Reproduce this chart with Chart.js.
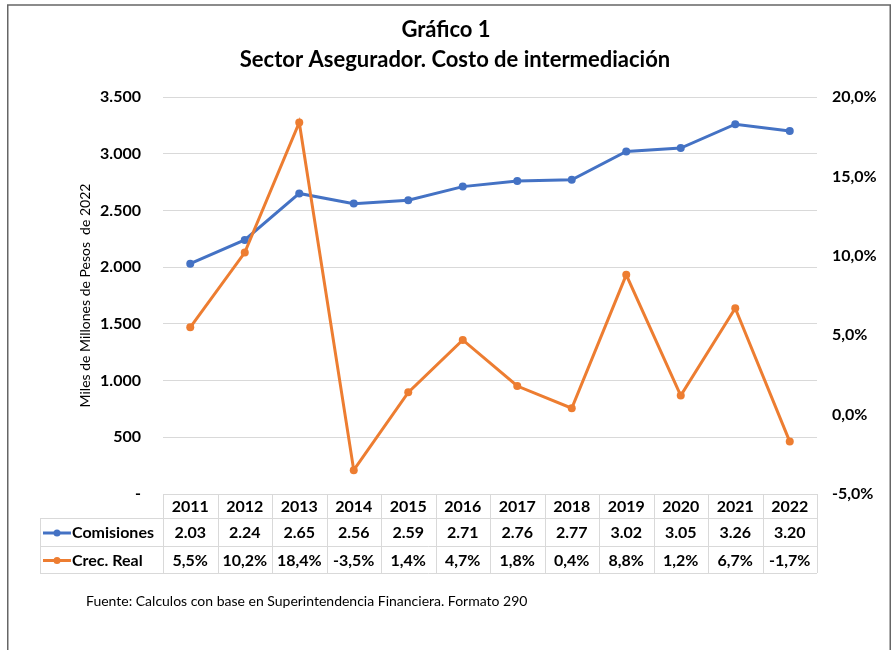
<!DOCTYPE html>
<html>
<head>
<meta charset="utf-8">
<script src="https://cdn.jsdelivr.net/npm/chart.js@4/dist/chart.umd.min.js"></script>
<style>
  html, body { margin: 0; padding: 0; background: #fff; }
  canvas { display: block; }
</style>
</head>
<body>
<canvas id="chart" width="891" height="650"></canvas>
<script>
// Data
const years = ['2011', '2012', '2013', '2014', '2015', '2016', '2017', '2018', '2019', '2020', '2021', '2022'];
const comisiones = [2030, 2240, 2650, 2560, 2590, 2710, 2760, 2770, 3020, 3050, 3260, 3200]; // miles de millones
const crecReal = [5.5, 10.2, 18.4, -3.5, 1.4, 4.7, 1.8, 0.4, 8.8, 1.2, 6.7, -1.7]; // %
const leftTicks = ['-', '500', '1.000', '1.500', '2.000', '2.500', '3.000', '3.500'];
const rightTicks = ['-5,0%', '0,0%', '5,0%', '10,0%', '15,0%', '20,0%'];

const BLUE = '#4472C4';
const ORANGE = '#ED7D31';
const GRID = '#d9d9d9';
const FONT = 'Lato, "Noto Sans", sans-serif';

// frame, titles, data table and footer
const extras = {
  id: 'extras',
  beforeDraw(chart) {
    const ctx = chart.ctx;
    ctx.save();
    ctx.fillStyle = '#fff';
    ctx.fillRect(0, 0, chart.width, chart.height);
    ctx.strokeStyle = '#666';
    ctx.lineWidth = 1.5;
    ctx.beginPath();
    ctx.moveTo(7.75, 650);
    ctx.lineTo(7.75, 5);
    ctx.lineTo(890.25, 5);
    ctx.lineTo(890.25, 650);
    ctx.stroke();
    ctx.fillStyle = '#000';
    ctx.textAlign = 'center';
    ctx.textBaseline = 'middle';
    ctx.font = 'bold 22px ' + FONT;
    ctx.fillText('Gráfico 1', 446, 30);
    ctx.fillText('Sector Asegurador. Costo de intermediación', 455, 60);
    ctx.restore();
  },
  afterDraw(chart) {
    const ctx = chart.ctx;
    const xs = chart.scales.x;
    const colW = xs.getPixelForValue(1) - xs.getPixelForValue(0);
    const x0 = xs.getPixelForValue(0) - colW / 2;
    const x1 = xs.getPixelForValue(years.length - 1) + colW / 2;
    const rows = [494, 518, 546, 573];
    const legendLeft = 40;

    ctx.save();
    ctx.strokeStyle = GRID;
    ctx.lineWidth = 1;
    ctx.beginPath();
    // horizontal lines
    ctx.moveTo(x0, rows[0] + 0.5); ctx.lineTo(x1, rows[0] + 0.5);
    for (let r = 1; r < rows.length; r++) {
      ctx.moveTo(legendLeft, rows[r] + 0.5); ctx.lineTo(x1, rows[r] + 0.5);
    }
    // vertical lines
    ctx.moveTo(legendLeft + 0.5, rows[1]); ctx.lineTo(legendLeft + 0.5, rows[3]);
    for (let i = 0; i <= years.length; i++) {
      const x = Math.round(x0 + i * colW) + 0.5;
      ctx.moveTo(x, rows[0]); ctx.lineTo(x, rows[3]);
    }
    ctx.stroke();

    ctx.fillStyle = '#000';
    ctx.font = 'bold 16px ' + FONT;
    ctx.textAlign = 'center';
    ctx.textBaseline = 'middle';
    years.forEach((y, i) => {
      const cx = xs.getPixelForValue(i);
      ctx.fillText(y, cx, (rows[0] + rows[1]) / 2 + 1);
      ctx.fillText((comisiones[i] / 1000).toFixed(2), cx, (rows[1] + rows[2]) / 2 + 1);
      ctx.fillText(crecReal[i].toFixed(1).replace('.', ',') + '%', cx, (rows[2] + rows[3]) / 2 + 1);
    });

    // legend keys
    const keys = [['Comisiones', BLUE], ['Crec. Real', ORANGE]];
    keys.forEach(([label, color], k) => {
      const cy = (rows[k + 1] + rows[k + 2]) / 2 + 1;
      ctx.strokeStyle = color;
      ctx.lineWidth = 3;
      ctx.beginPath();
      ctx.moveTo(43, cy); ctx.lineTo(71, cy);
      ctx.stroke();
      ctx.fillStyle = color;
      ctx.beginPath();
      ctx.arc(57, cy, 3.5, 0, Math.PI * 2);
      ctx.fill();
      ctx.fillStyle = '#000';
      ctx.textAlign = 'left';
      ctx.fillText(label, 72, cy);
    });

    ctx.font = '14px ' + FONT;
    ctx.textAlign = 'left';
    ctx.fillText('Fuente: Calculos con base en Superintendencia Financiera. Formato 290', 86, 601);
    ctx.restore();
  }
};

new Chart(document.getElementById('chart'), {
  type: 'line',
  data: {
    labels: years,
    datasets: [
      {
        label: 'Comisiones',
        data: comisiones,
        yAxisID: 'y',
        borderColor: BLUE,
        backgroundColor: BLUE,
        borderWidth: 3,
        pointRadius: 4,
        pointBorderWidth: 0,
        pointHoverRadius: 4,
        tension: 0,
        order: 2
      },
      {
        label: 'Crec. Real',
        data: crecReal,
        yAxisID: 'y1',
        borderColor: ORANGE,
        backgroundColor: ORANGE,
        borderWidth: 3,
        pointRadius: 4,
        pointBorderWidth: 0,
        pointHoverRadius: 4,
        tension: 0,
        order: 1
      }
    ]
  },
  options: {
    responsive: false,
    animation: false,
    devicePixelRatio: 1,
    layout: { padding: { left: 73, right: 0, top: 97, bottom: 156 } },
    plugins: {
      legend: { display: false },
      title: { display: false },
      tooltip: { enabled: false }
    },
    scales: {
      x: {
        type: 'category',
        offset: true,
        display: false
      },
      y: {
        position: 'left',
        min: 0,
        max: 3500,
        afterFit: (s) => { s.width = 90; },
        ticks: {
          stepSize: 500,
          padding: 22,
          color: '#000',
          font: { family: FONT, size: 16, weight: 'bold' },
          callback: (v, i) => leftTicks[i]
        },
        grid: { color: GRID, drawTicks: false },
        border: { display: false },
        title: {
          display: true,
          text: 'Miles de Millones de Pesos  de 2022',
          color: '#000',
          font: { family: FONT, size: 14 }
        }
      },
      y1: {
        position: 'right',
        min: -5,
        max: 20,
        afterFit: (s) => { s.width = 74; },
        ticks: {
          stepSize: 5,
          padding: 15,
          color: '#000',
          font: { family: FONT, size: 16, weight: 'bold' },
          callback: (v, i) => rightTicks[i]
        },
        grid: { drawOnChartArea: false, drawTicks: false },
        border: { display: false }
      }
    }
  },
  plugins: [extras]
});
</script>
</body>
</html>
